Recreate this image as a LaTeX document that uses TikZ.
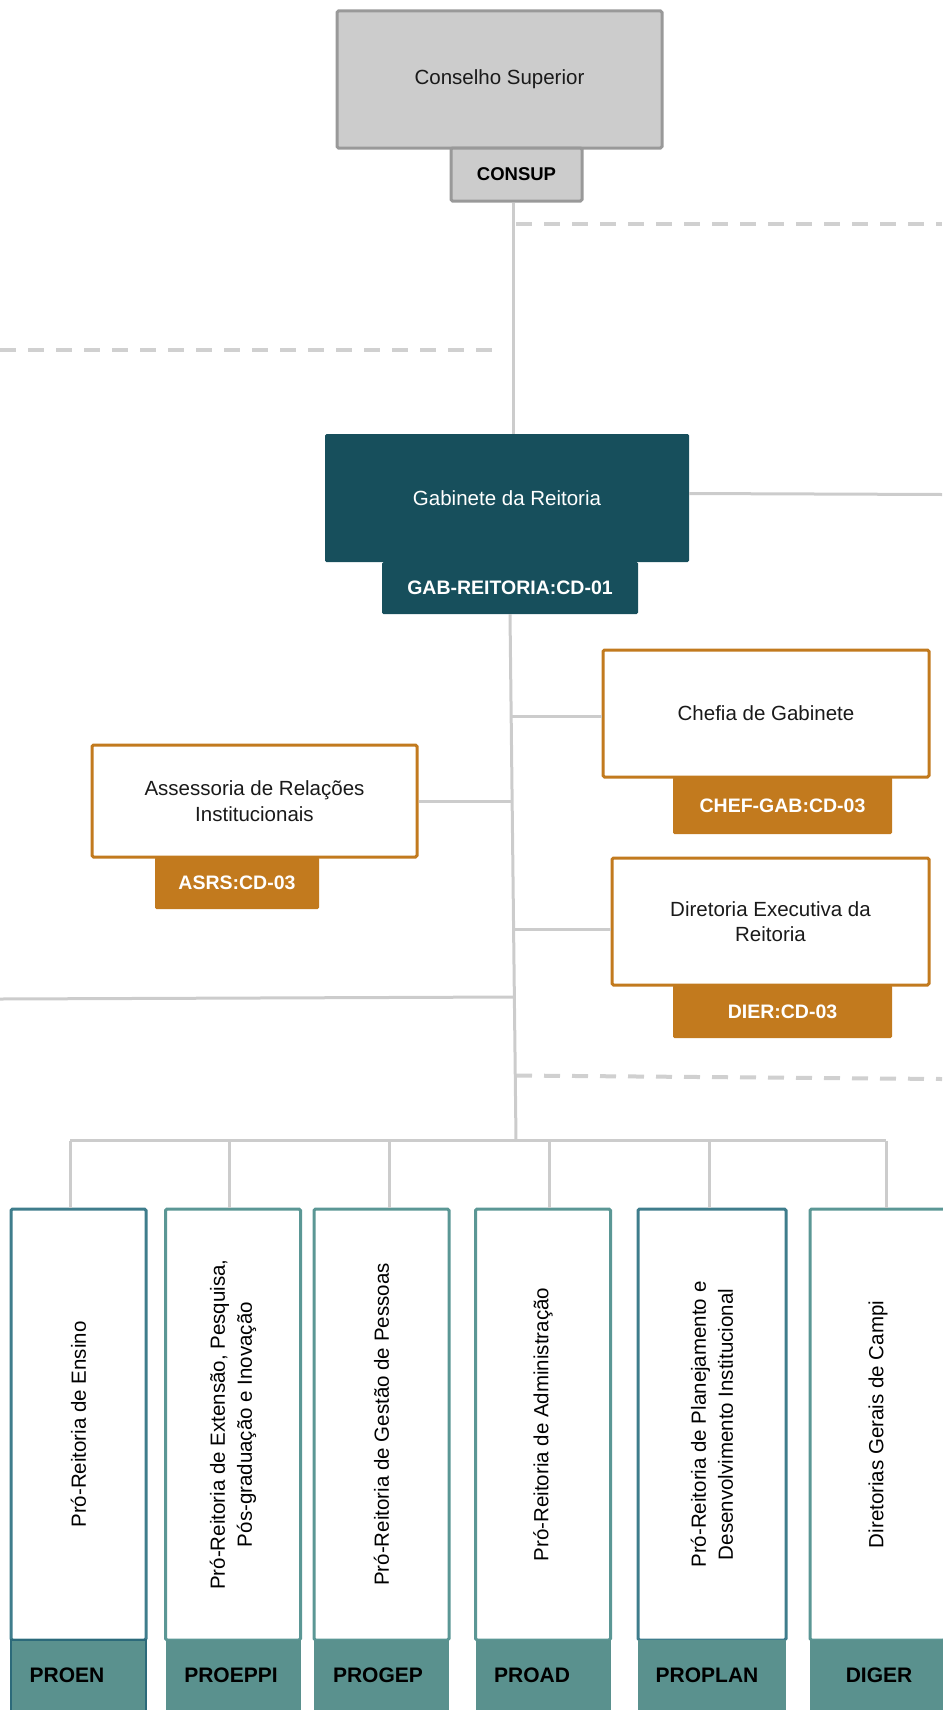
\documentclass[tikz,border=0pt]{standalone}
\usepackage{fontspec}
\setmainfont{Liberation Sans}
\definecolor{grayf}{HTML}{CCCCCC}
\definecolor{grayb}{HTML}{999999}
\definecolor{gabc}{HTML}{174F5C}
\definecolor{orng}{HTML}{C27A1E}
\definecolor{lineg}{HTML}{CCCCCC}
\definecolor{dashg}{HTML}{D0D0D0}
\definecolor{tealA}{HTML}{3F7D8C}
\definecolor{tealB}{HTML}{5B9795}
\definecolor{tabf}{HTML}{5A918E}
\definecolor{tabb}{HTML}{2C6A7A}
\definecolor{txt}{HTML}{1A1A1A}
\begin{document}
\begin{tikzpicture}[x=1pt,y=-1pt,
  conn/.style={draw=lineg, line width=3pt},
  dashln/.style={draw=dashg, line width=4pt, dash pattern=on 16pt off 12pt},
  boxbase/.style={inner sep=0pt, rounded corners=1.5pt, align=center},
  graybox/.style={boxbase, draw=grayb, fill=grayf, line width=3pt, text=txt, font=\fontsize{20.5}{25}\selectfont},
  graytab/.style={graybox, font=\bfseries\fontsize{18.5}{22}\selectfont, text=black},
  gabbox/.style={boxbase, fill=gabc, text=white, font=\fontsize{20.5}{25}\selectfont},
  gabtabst/.style={gabbox, font=\bfseries\fontsize{19.5}{23}\selectfont},
  orbox/.style={boxbase, draw=orng, fill=white, line width=3pt, text=txt, font=\fontsize{20.5}{25.5}\selectfont},
  ortab/.style={boxbase, fill=orng, text=white, font=\bfseries\fontsize{19.5}{23}\selectfont},
  probox/.style={boxbase, draw=#1, fill=white, line width=3pt, minimum width=135, minimum height=431},
  protab/.style={inner sep=0pt, fill=tabf, minimum width=135, minimum height=74},
  prolbl/.style={inner sep=0pt, text=black, font=\bfseries\fontsize{21}{25}\selectfont},
  rottxt/.style={inner sep=0pt, rotate=90, align=center, text=black, font=\fontsize{20.5}{27}\selectfont}
]
\useasboundingbox (0,0) rectangle (942,1710);

% top boxes
\node[graybox, minimum width=325, minimum height=137] (consup) at (499.5,79.5) {Conselho Superior};
\node[graytab, minimum width=131, minimum height=53] (consuptab) at (516.5,174.5) {CONSUP};
\node[gabbox, minimum width=364, minimum height=128] (gab) at (507,498) {Gabinete da Reitoria};
\node[gabtabst, minimum width=256, minimum height=52] (gabtab) at (510,588) {GAB-REITORIA:CD-01};

% dashed lines and free ends
\coordinate (dA1) at (516,223.5);
\coordinate (dA2) at (942,223.5);
\coordinate (dB1) at (0,350);
\coordinate (dB2) at (499,350);
\coordinate (dC1) at (516,1075.5);
\coordinate (dC2) at (942,1079);
\draw[dashln] (dA1) -- (dA2);
\draw[dashln] (dB1) -- (dB2);
\draw[dashln] (dC1) -- (dC2);

% consup -> gab
\draw[conn] ([xshift=-3.5pt]consuptab.south) -- ([xshift=-3.5pt]consuptab.south |- gab.north);
% gab right line
\coordinate (gabR) at (942,494.5);
\draw[conn] (gab.east |- 0,493.5) -- (gabR);

% staff boxes
\node[orbox, minimum width=326, minimum height=127] (chef) at (766,713.5) {Chefia de Gabinete};
\node[ortab, minimum width=219, minimum height=57] (cheftab) at (782.5,805.5) {CHEF-GAB:CD-03};
\node[orbox, minimum width=317, minimum height=127] (dier) at (770.5,921.5) {Diretoria Executiva da\\Reitoria};
\node[ortab, minimum width=219, minimum height=53] (diertab) at (782.5,1011.5) {DIER:CD-03};
\node[orbox, minimum width=325, minimum height=112] (asrs) at (254.5,801) {Assessoria de Relações\\Institucionais};
\node[ortab, minimum width=164, minimum height=52] (asrstab) at (237,883) {ASRS:CD-03};

% trunk
\coordinate (busjoin) at (516,1140.5);
\draw[conn] (gabtab.south) -- (busjoin);
\coordinate (tchef) at (511.5,716);
\coordinate (tasrs) at (512,801);
\coordinate (tdier) at (513.5,929);
\coordinate (tleft) at (514,997);
\coordinate (lend) at (0,999);
\draw[conn] (tchef) -- (tchef -| chef.west);
\draw[conn] (asrs.east |- tasrs) -- (tasrs);
\draw[conn] (tdier) -- (tdier -| dier.west);
\draw[conn] (lend) -- (tleft);

% bottom boxes
\node[probox=tealA] (proen) at (78.5,1424.5) {};
\node[probox=tealB] (proeppi) at (233,1424.5) {};
\node[probox=tealB] (progep) at (381.5,1424.5) {};
\node[probox=tealB] (proad) at (543,1424.5) {};
\node[probox=tealA, minimum width=148] (proplan) at (712,1424.5) {};
\node[probox=tealB] (diger) at (877.5,1424.5) {};

\node[protab, draw=tabb, line width=2pt] (proentab) at (78.5,1677) {};
\node[protab] (proeppitab) at (233,1677) {};
\node[protab] (progeptab) at (381.5,1677) {};
\node[protab] (proadtab) at (543,1677) {};
\node[protab, minimum width=148] (proplantab) at (712,1677) {};
\node[protab] (digertab) at (877.5,1677) {};

\node[prolbl] (l1) at (67,1675) {PROEN};
\node[prolbl] (l2) at (231,1675) {PROEPPI};
\node[prolbl] (l3) at (378,1675) {PROGEP};
\node[prolbl] (l4) at (532,1675) {PROAD};
\node[prolbl] (l5) at (707,1675) {PROPLAN};
\node[prolbl] (l6) at (879,1675) {DIGER};

\node[rottxt] (r1) at (proen.center) {Pró-Reitoria de Ensino};
\node[rottxt] (r2) at (proeppi.center) {Pró-Reitoria de Extensão, Pesquisa,\\Pós-graduação e Inovação};
\node[rottxt] (r3) at (progep.center) {Pró-Reitoria de Gestão de Pessoas};
\node[rottxt] (r4) at (proad.center) {Pró-Reitoria de Administração};
\node[rottxt] (r5) at (proplan.center) {Pró-Reitoria de Planejamento e\\Desenvolvimento Institucional};
\node[rottxt] (r6) at (878,1424.5) {Diretorias Gerais de Campi};

% bus and drops
\coordinate (b1) at (70,1140.5);
\coordinate (b2) at (229,1140.5);
\coordinate (b3) at (389,1140.5);
\coordinate (b4) at (549,1140.5);
\coordinate (b5) at (709,1140.5);
\coordinate (b6) at (886,1140.5);
\draw[conn] (b1) -- (b6);
\draw[conn] (b1) -- (b1 |- proen.north);
\draw[conn] (b2) -- (b2 |- proeppi.north);
\draw[conn] (b3) -- (b3 |- progep.north);
\draw[conn] (b4) -- (b4 |- proad.north);
\draw[conn] (b5) -- (b5 |- proplan.north);
\draw[conn] (b6) -- (b6 |- diger.north);
\end{tikzpicture}
\end{document}
